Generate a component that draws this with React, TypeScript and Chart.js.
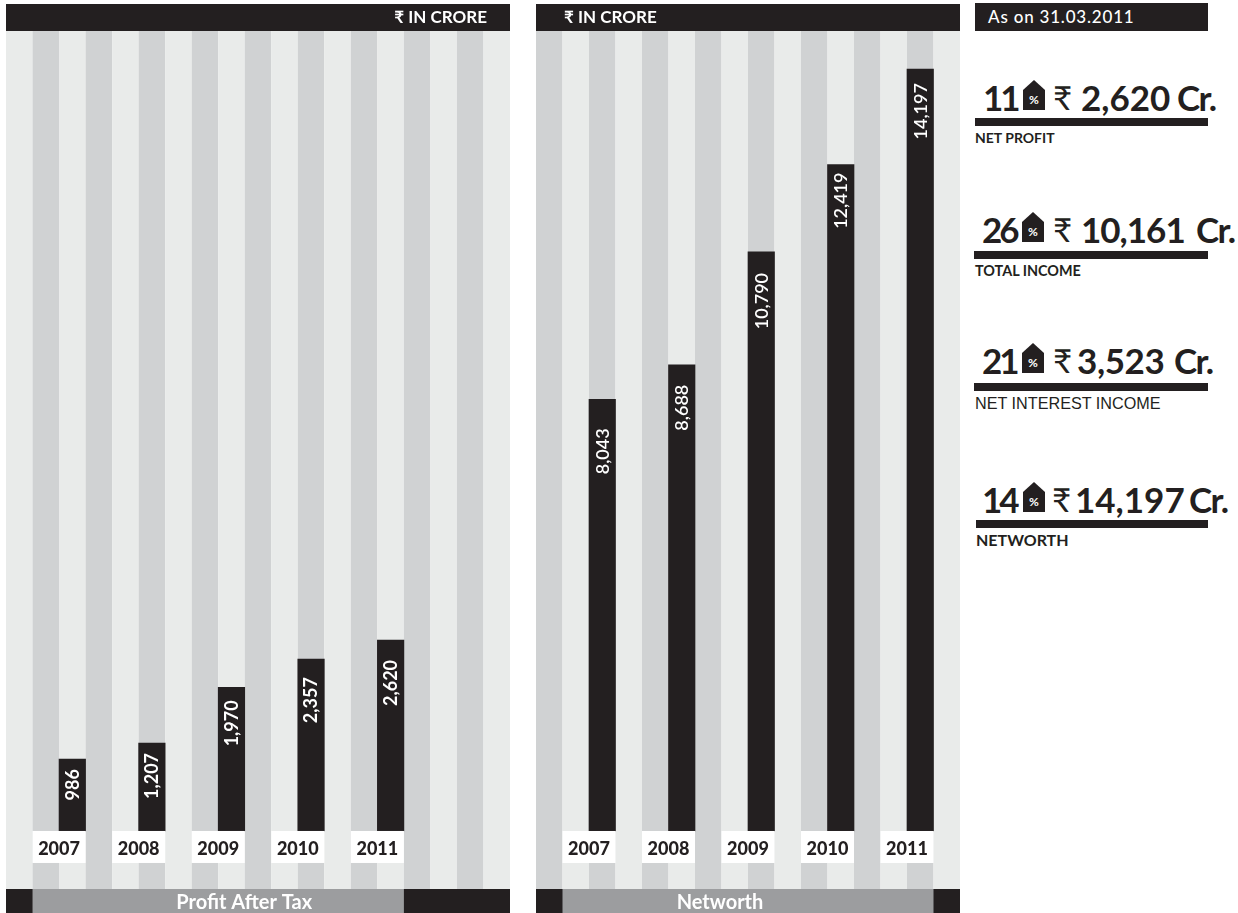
import React, { useEffect, useRef } from "react";
import { Chart, registerables } from "chart.js";

Chart.register(...registerables);

const years = ["2007", "2008", "2009", "2010", "2011"];
const profitAfterTax = [986, 1207, 1970, 2357, 2620];
const networth = [8043, 8688, 10790, 12419, 14197];

const kpiGrowth = ["11", "26", "21", "14"];
const kpiAmount = ["2,620", "10,161", "3,523", "14,197"];
const kpiLabel = ["NET PROFIT", "TOTAL INCOME", "NET INTEREST INCOME", "NETWORTH"];

const INK = "#231f20";
const LIGHT = "#e9ebea";
const GREY = "#d0d2d3";
const BAND = "#9c9d9f";
const DISPLAY = 'Lato, "Noto Sans", "DejaVu Sans", sans-serif';
const RUPEE = "\u20B9";

// Every bar sits on every third stripe, starting with the third one.
const FIRST_SLOT = 2;
const SLOT_STEP = 3;

type Panel = {
  values: number[];
  stripes: number;
  firstStripe: string;
  secondStripe: string;
  yMin: number;
  yMax: number;
  title: string;
  titleShift: number;
  unitAlign: "left" | "right";
  unitInset: number;
  labelInsets: number[];
  labelWeight: number;
};

function slotted(values: (number | string)[], stripes: number, empty: any) {
  const out = new Array(stripes).fill(empty);
  values.forEach((v, i) => {
    out[FIRST_SLOT + i * SLOT_STEP] = v;
  });
  return out;
}

// Draws the stripes, header, footer band, year tags and rotated value labels around the bars.
function decorations(panel: Panel) {
  return {
    id: "panelDecor",
    beforeDatasetsDraw(chart: any) {
      const { ctx, chartArea, scales } = chart;
      const half = (scales.x.getPixelForValue(1) - scales.x.getPixelForValue(0)) / 2;
      ctx.save();
      for (let i = 0; i < panel.stripes; i++) {
        const c = scales.x.getPixelForValue(i);
        ctx.fillStyle = i % 2 === 0 ? panel.firstStripe : panel.secondStripe;
        ctx.fillRect(c - half, chartArea.top, half * 2, chartArea.bottom - chartArea.top);
      }
      ctx.restore();
    },
    afterDatasetsDraw(chart: any) {
      const { ctx, chartArea, scales, width } = chart;
      const half = (scales.x.getPixelForValue(1) - scales.x.getPixelForValue(0)) / 2;
      const base = scales.y.getPixelForValue(0);
      const bars = chart.getDatasetMeta(0).data;
      ctx.save();

      // header
      ctx.fillStyle = INK;
      ctx.fillRect(0, 4, width, chartArea.top - 4);
      ctx.fillStyle = "#ffffff";
      ctx.font = `700 17px ${DISPLAY}`;
      ctx.textBaseline = "middle";
      ctx.textAlign = panel.unitAlign;
      ctx.fillText(
        `${RUPEE} IN CRORE`,
        panel.unitAlign === "right" ? width - panel.unitInset : panel.unitInset,
        18
      );

      // footer band
      ctx.fillStyle = INK;
      ctx.fillRect(0, chartArea.bottom, width, 24);
      const bandLeft = scales.x.getPixelForValue(1) - half;
      const bandRight = scales.x.getPixelForValue(14) + half;
      ctx.fillStyle = BAND;
      ctx.fillRect(bandLeft, chartArea.bottom, bandRight - bandLeft, 24);
      ctx.fillStyle = "#ffffff";
      ctx.font = `700 20px ${DISPLAY}`;
      ctx.textAlign = "center";
      ctx.fillText(panel.title, (bandLeft + bandRight) / 2 + panel.titleShift, chartArea.bottom + 14);

      // year tags, each spanning the bar's stripe and the one before it
      years.forEach((year, i) => {
        const slot = FIRST_SLOT + i * SLOT_STEP;
        const right = scales.x.getPixelForValue(slot) + half;
        const left = scales.x.getPixelForValue(slot - 1) - half;
        ctx.fillStyle = "#ffffff";
        ctx.fillRect(left, base, right - left, 32);
        ctx.fillStyle = INK;
        ctx.font = `900 18px ${DISPLAY}`;
        ctx.textAlign = "center";
        ctx.fillText(year, (left + right) / 2, base + 18);
      });

      // value labels read upward, ending just under each bar's top
      panel.values.forEach((value, i) => {
        const bar = bars[FIRST_SLOT + i * SLOT_STEP];
        ctx.save();
        ctx.translate(bar.x + 0.5, bar.y + panel.labelInsets[i]);
        ctx.rotate(-Math.PI / 2);
        ctx.fillStyle = "#ffffff";
        ctx.font = `${panel.labelWeight} 18px ${DISPLAY}`;
        ctx.textAlign = "right";
        ctx.textBaseline = "middle";
        ctx.fillText(value.toLocaleString("en-US"), 0, 0);
        ctx.restore();
      });
      ctx.restore();
    },
  };
}

function makeChart(canvas: HTMLCanvasElement, panel: Panel) {
  return new Chart(canvas, {
    type: "bar",
    data: {
      labels: slotted(years, panel.stripes, ""),
      datasets: [
        {
          data: slotted(panel.values, panel.stripes, null),
          backgroundColor: INK,
          barPercentage: 1,
          categoryPercentage: 1,
        },
      ],
    },
    options: {
      animation: false,
      responsive: false,
      layout: { padding: { top: 31, bottom: 24, left: 0, right: 0 } },
      plugins: { legend: { display: false }, tooltip: { enabled: false } },
      scales: {
        x: { display: false },
        y: { display: false, min: panel.yMin, max: panel.yMax },
      },
    },
    plugins: [decorations(panel)],
  });
}

const profitPanel: Panel = {
  values: profitAfterTax,
  stripes: 19,
  firstStripe: LIGHT,
  secondStripe: GREY,
  yMin: -796,
  yMax: 10974,
  title: "Profit After Tax",
  titleShift: 26,
  unitAlign: "right",
  unitInset: 23,
  labelInsets: [10, 10, 13, 18, 20],
  labelWeight: 700,
};

const networthPanel: Panel = {
  values: networth,
  stripes: 16,
  firstStripe: GREY,
  secondStripe: LIGHT,
  yMin: -1081,
  yMax: 14907,
  title: "Networth",
  titleShift: -28,
  unitAlign: "left",
  unitInset: 28,
  labelInsets: [29, 20, 21, 8, 14],
  labelWeight: 600,
};

// Horizontal placement of each headline piece: growth, tag, rupee, amount, "Cr."
const rowX = [
  [983, 1023, 1053, 1081, 1177],
  [982, 1022, 1053, 1081, 1196],
  [982, 1022, 1053, 1077, 1174],
  [982, 1023, 1052, 1075, 1189],
];
const rowBaseline = [110, 242, 373, 512];
const ruleTop = [118, 251, 383, 520];
const ruleLeft = [975, 974, 974, 976];
const amountTracking = [0, -1, -0.4, 0];
const captionSize = [14, 14.4, 16.2, 16];
const captionLeft = [975, 975, 975, 976];

function abs(left: number, top: number, extra: React.CSSProperties = {}): React.CSSProperties {
  return { position: "absolute", left, top, whiteSpace: "nowrap", ...extra };
}

function Headline({ index }: { index: number }) {
  const x = rowX[index];
  const base = rowBaseline[index];
  const big: React.CSSProperties = {
    fontFamily: DISPLAY,
    fontWeight: 700,
    fontSize: 35,
    lineHeight: "40px",
    color: INK,
  };
  const top = base - 33;
  return (
    <>
      <span style={abs(x[0], top, { ...big, letterSpacing: -3 })}>{kpiGrowth[index]}</span>
      <svg style={abs(x[1], base - 30)} width={22} height={30} viewBox="0 0 22 30">
        <polygon points="0,10 11,0 22,10 22,30 0,30" fill={INK} />
        <text
          x={11}
          y={24}
          textAnchor="middle"
          fill="#ffffff"
          style={{ fontFamily: DISPLAY, fontSize: 12, fontWeight: 700 }}
        >
          %
        </text>
      </svg>
      <span style={abs(x[2], top, { ...big, fontWeight: 400, fontSize: 33 })}>{RUPEE}</span>
      <span style={abs(x[3], top, { ...big, letterSpacing: amountTracking[index] })}>{kpiAmount[index]}</span>
      <span style={abs(x[4], top, { ...big, letterSpacing: -1.5 })}>Cr.</span>
      <div
        style={abs(ruleLeft[index], ruleTop[index], {
          width: 1208 - ruleLeft[index],
          height: 8,
          background: INK,
        })}
      />
      <span
        style={abs(captionLeft[index], ruleTop[index] + 11, {
          fontFamily: index === 2 ? '"Liberation Sans", sans-serif' : DISPLAY,
          fontWeight: index === 2 ? 400 : 700,
          fontSize: captionSize[index],
          lineHeight: "18px",
          color: INK,
        })}
      >
        {kpiLabel[index]}
      </span>
    </>
  );
}

export default function App() {
  const leftRef = useRef<HTMLCanvasElement>(null);
  const rightRef = useRef<HTMLCanvasElement>(null);

  useEffect(() => {
    document.body.style.margin = "0";
    const left = makeChart(leftRef.current!, profitPanel);
    const right = makeChart(rightRef.current!, networthPanel);
    return () => {
      left.destroy();
      right.destroy();
    };
  }, []);

  return (
    <div style={{ position: "relative", width: 1238, height: 913, overflow: "hidden", background: "#fff" }}>
      <canvas ref={leftRef} width={504} height={913} style={{ position: "absolute", left: 6, top: 0 }} />
      <canvas ref={rightRef} width={424} height={913} style={{ position: "absolute", left: 536, top: 0 }} />
      <div style={abs(975, 3, { width: 233, height: 28, background: INK })} />
      <span
        style={abs(988, 7, {
          fontFamily: DISPLAY,
          fontWeight: 500,
          fontSize: 17,
          lineHeight: "20px",
          color: "#fff",
          letterSpacing: 0.8,
        })}
      >
        As on 31.03.2011
      </span>
      {kpiLabel.map((_, i) => (
        <Headline key={i} index={i} />
      ))}
    </div>
  );
}
